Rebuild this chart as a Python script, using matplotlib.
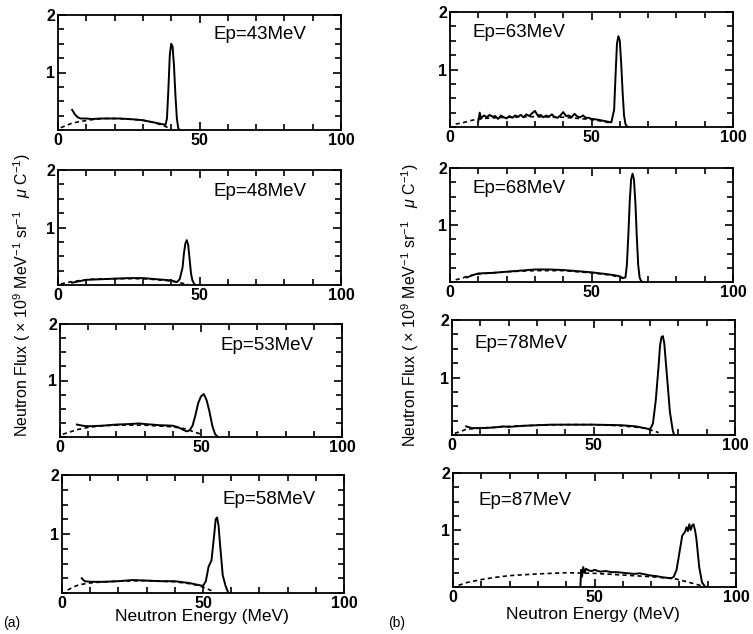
import matplotlib
matplotlib.use("Agg")
import matplotlib.pyplot as plt
from matplotlib.ticker import MultipleLocator

plt.rcParams['font.family'] = ['Liberation Sans', 'DejaVu Sans']
plt.rcParams['mathtext.fontset'] = 'custom'
plt.rcParams['mathtext.rm'] = 'Liberation Sans'
plt.rcParams['mathtext.it'] = 'Liberation Sans:italic'
plt.rcParams['mathtext.bf'] = 'Liberation Sans:bold'

# ---- data (E in MeV, flux in 1e9 /MeV/sr/uC) ----
labels = ['Ep=43MeV', 'Ep=48MeV', 'Ep=53MeV', 'Ep=58MeV',
          'Ep=63MeV', 'Ep=68MeV', 'Ep=78MeV', 'Ep=87MeV']

# measured (solid)
e43_x = [5, 6, 7, 8, 10, 12, 15, 18, 20, 22, 25, 28, 30, 32, 34, 36, 37, 38, 38.5, 39, 39.5, 40, 40.5, 41, 41.5, 42, 42.5, 43]
e43_y = [0.35, 0.27, 0.22, 0.2, 0.2, 0.19, 0.2, 0.2, 0.2, 0.2, 0.19, 0.18, 0.17, 0.15, 0.13, 0.11, 0.1, 0.09, 0.2, 0.7, 1.3, 1.5, 1.45, 1.1, 0.6, 0.2, 0.03, 0]
e48_x = [5, 8, 10, 15, 20, 25, 30, 35, 40, 42, 43, 44, 44.5, 45, 45.5, 46, 46.5, 47, 47.5, 48, 48.5]
e48_y = [0.04, 0.07, 0.09, 0.1, 0.11, 0.12, 0.12, 0.1, 0.08, 0.05, 0.1, 0.3, 0.55, 0.72, 0.78, 0.7, 0.45, 0.2, 0.08, 0.03, 0]
e53_x = [6, 8, 10, 15, 20, 25, 28, 30, 35, 40, 42, 44, 45, 46, 47, 48, 49, 50, 51, 52, 53, 54, 55, 56]
e53_y = [0.22, 0.2, 0.19, 0.2, 0.22, 0.23, 0.24, 0.23, 0.21, 0.2, 0.17, 0.12, 0.1, 0.12, 0.2, 0.38, 0.6, 0.72, 0.76, 0.65, 0.45, 0.2, 0.05, 0]
e58_x = [7, 8, 10, 15, 20, 25, 30, 35, 40, 45, 48, 50, 51, 52, 53, 54, 54.5, 55, 55.5, 56, 57, 58, 59]
e58_y = [0.25, 0.2, 0.19, 0.19, 0.2, 0.22, 0.21, 0.2, 0.2, 0.17, 0.14, 0.12, 0.2, 0.45, 0.55, 1.0, 1.25, 1.28, 1.15, 0.85, 0.3, 0.12, 0]
e63_x = [10, 10.5, 11, 12, 13, 14, 15, 16, 17, 18, 19, 20, 21, 22, 23, 24, 25, 26, 27, 28, 29, 30,
         31, 32, 33, 34, 35, 36, 37, 38, 39, 40, 41, 42, 43, 44, 45, 46, 47, 48, 49, 50, 52, 54, 56,
         57, 58, 58.5, 59, 59.5, 60, 60.5, 61, 61.5, 62, 62.5, 63]
e63_y = [0.1, 0.25, 0.15, 0.2, 0.17, 0.21, 0.18, 0.19, 0.14, 0.2, 0.17, 0.15, 0.19, 0.16, 0.2, 0.18, 0.21, 0.17, 0.22, 0.19, 0.24, 0.28,
         0.2, 0.21, 0.17, 0.2, 0.18, 0.22, 0.17, 0.16, 0.2, 0.26, 0.19, 0.2, 0.17, 0.23, 0.18, 0.17, 0.2, 0.16, 0.16, 0.14, 0.13, 0.11, 0.09,
         0.08, 0.3, 0.9, 1.45, 1.58, 1.5, 1.1, 0.6, 0.2, 0.05, 0.01, 0]
e68_x = [6, 8, 10, 15, 20, 25, 30, 35, 40, 45, 50, 55, 58, 60, 61, 62, 62.5, 63, 63.5, 64, 64.5, 65, 65.5, 66, 66.5, 67, 67.5, 68]
e68_y = [0.08, 0.12, 0.15, 0.16, 0.18, 0.2, 0.22, 0.22, 0.21, 0.19, 0.17, 0.14, 0.12, 0.1, 0.07, 0.08, 0.3, 0.8, 1.4, 1.8, 1.9, 1.8, 1.4, 0.8, 0.3, 0.08, 0.02, 0]
e78_x = [5, 7, 10, 15, 18, 20, 25, 30, 35, 40, 50, 60, 65, 68, 70, 71, 72, 73, 73.5, 74, 74.5, 75, 76, 77, 78, 78.5]
e78_y = [0.15, 0.12, 0.12, 0.13, 0.15, 0.14, 0.16, 0.17, 0.18, 0.18, 0.18, 0.17, 0.15, 0.12, 0.1, 0.2, 0.6, 1.2, 1.55, 1.7, 1.72, 1.6, 1.0, 0.4, 0.08, 0]
e87_x = [45, 45.3, 45.6, 46, 46.5, 47, 48, 49, 50, 52, 54, 56, 58, 60, 62, 64, 66, 68, 70, 72, 74, 76, 77, 78, 79,
         80, 81, 82, 82.5, 83, 83.5, 84, 84.5, 85, 85.5, 86, 86.5, 87, 88, 89, 89.5]
e87_y = [0, 0.3, 0.18, 0.35, 0.25, 0.32, 0.29, 0.28, 0.3, 0.27, 0.28, 0.26, 0.26, 0.25, 0.24, 0.23, 0.24, 0.22, 0.2, 0.19, 0.17, 0.16, 0.15, 0.18, 0.3,
         0.6, 0.9, 0.97, 1.05, 0.98, 1.1, 1.0, 1.08, 1.1, 1.0, 0.85, 0.6, 0.35, 0.08, 0.01, 0]

# calculation (dashed)
c43_x = [1, 3, 5, 8, 12, 16, 20, 25, 30, 34, 37, 39, 40]
c43_y = [0.04, 0.08, 0.12, 0.15, 0.18, 0.2, 0.2, 0.19, 0.17, 0.13, 0.08, 0.04, 0.02]
c48_x = [1, 4, 8, 12, 20, 30, 38, 42, 44, 46]
c48_y = [0.02, 0.05, 0.08, 0.1, 0.11, 0.11, 0.08, 0.05, 0.03, 0.01]
c53_x = [1, 3, 6, 10, 15, 20, 30, 40, 45, 47, 50]
c53_y = [0.05, 0.08, 0.13, 0.17, 0.2, 0.21, 0.21, 0.18, 0.14, 0.1, 0.05]
c58_x = [2, 4, 6, 10, 15, 20, 30, 40, 45, 48, 50, 52, 53]
c58_y = [0.05, 0.1, 0.14, 0.17, 0.19, 0.2, 0.21, 0.19, 0.16, 0.13, 0.1, 0.06, 0.04]
c63_x = [2, 5, 8, 12, 20, 30, 40, 50, 55, 57]
c63_y = [0.05, 0.08, 0.12, 0.15, 0.17, 0.18, 0.17, 0.13, 0.09, 0.06]
c68_x = [2, 4, 6, 10, 20, 30, 40, 50, 57, 60, 62]
c68_y = [0.04, 0.06, 0.1, 0.14, 0.18, 0.2, 0.2, 0.16, 0.12, 0.08, 0.05]
c78_x = [1, 3, 5, 10, 20, 30, 40, 50, 60, 68, 72, 73]
c78_y = [0.03, 0.06, 0.1, 0.12, 0.15, 0.17, 0.18, 0.18, 0.16, 0.12, 0.06, 0.04]
c87_x = [2, 5, 10, 15, 20, 30, 40, 50, 60, 70, 78, 82, 85, 88, 89]
c87_y = [0.03, 0.08, 0.13, 0.17, 0.2, 0.23, 0.25, 0.24, 0.21, 0.18, 0.15, 0.1, 0.06, 0.02, 0]

meas = [(e43_x, e43_y), (e48_x, e48_y), (e53_x, e53_y), (e58_x, e58_y),
        (e63_x, e63_y), (e68_x, e68_y), (e78_x, e78_y), (e87_x, e87_y)]
calc = [(c43_x, c43_y), (c48_x, c48_y), (c53_x, c53_y), (c58_x, c58_y),
        (c63_x, c63_y), (c68_x, c68_y), (c78_x, c78_y), (c87_x, c87_y)]

W, H = 753, 634
fig = plt.figure(figsize=(W / 100, H / 100), dpi=100)

# pixel boxes (left, right, top, bottom)
boxes = [(58, 341, 15, 130), (58, 341, 170, 285), (60, 342, 324, 437), (62, 344, 475, 593),
         (450, 733, 12, 127), (450, 733, 168, 282), (452, 735, 320, 435), (453, 736, 473, 587)]
label_x = [0.55, 0.55, 0.57, 0.57, 0.08, 0.08, 0.08, 0.09]
label_y = [0.83, 0.81, 0.81, 0.79, 0.82, 0.82, 0.80, 0.76]

for i, (l, r, t, b) in enumerate(boxes):
    ax = fig.add_axes([l / W, 1 - b / H, (r - l) / W, (b - t) / H])
    mx, my = meas[i]
    cx, cy = calc[i]
    ax.plot(cx, cy, color='black', lw=1.2, ls=(0, (2.5, 2)))
    ax.plot(mx, my, color='black', lw=1.4)
    ax.set_xlim(0, 100)
    ax.set_ylim(0, 2)
    ax.xaxis.set_major_locator(MultipleLocator(50))
    ax.xaxis.set_minor_locator(MultipleLocator(10))
    ax.yaxis.set_major_locator(MultipleLocator(1))
    ax.yaxis.set_minor_locator(MultipleLocator(0.25))
    ax.tick_params(which='both', direction='in', top=True, right=True, width=1.2)
    ax.tick_params(which='major', length=6, labelsize=11.5, pad=2)
    ax.tick_params(which='minor', length=4)
    ax.set_yticks([1, 2])
    ax.set_yticklabels(['1', '2'], fontweight='bold')
    ax.set_xticks([0, 50, 100])
    ax.set_xticklabels(['0', '50', '100'], fontweight='bold')
    for s in ax.spines.values():
        s.set_linewidth(1.3)
    ax.text(label_x[i], label_y[i], labels[i], transform=ax.transAxes,
            fontsize=13.5, va='center', ha='left')

ylab = r'Neutron Flux ( $\times$ 10$^9$ MeV$^{-1}$ sr$^{-1}$   $\mu$ C$^{-1}$)'
fig.text(22 / W, 1 - 295 / H, ylab, rotation=90, ha='center', va='center', fontsize=11.5)
fig.text(410 / W, 1 - 305 / H, ylab, rotation=90, ha='center', va='center', fontsize=11.5)
fig.text(202 / W, 1 - 617 / H, 'Neutron Energy (MeV)', ha='center', va='center', fontsize=12.5)
fig.text(593 / W, 1 - 615 / H, 'Neutron Energy (MeV)', ha='center', va='center', fontsize=12.5)
fig.text(12 / W, 1 - 623 / H, '(a)', ha='center', va='center', fontsize=10)
fig.text(397 / W, 1 - 623 / H, '(b)', ha='center', va='center', fontsize=10)

fig.savefig('out.png', dpi=100)
